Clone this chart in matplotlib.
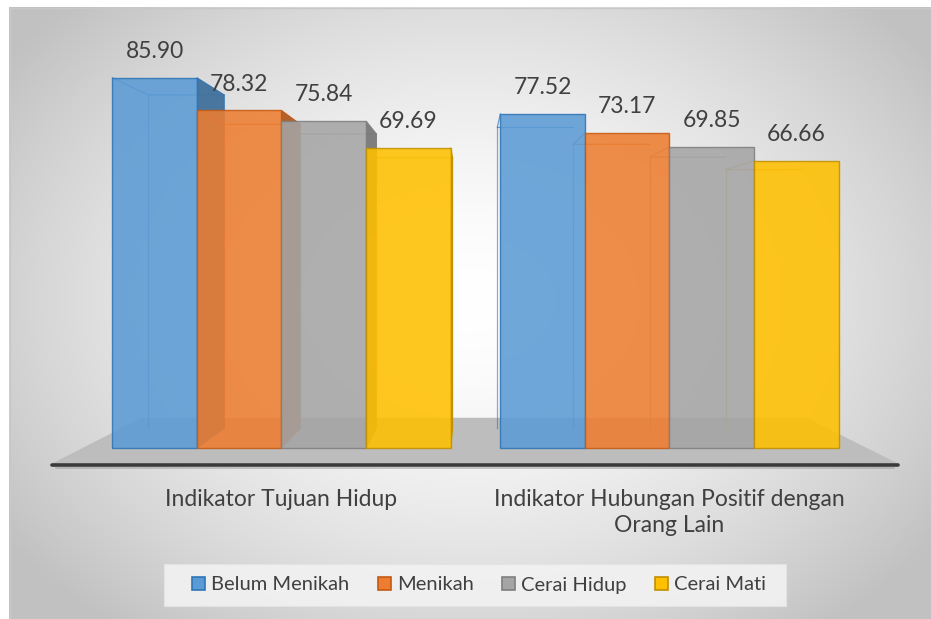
import numpy as np
import matplotlib
matplotlib.use("Agg")
import matplotlib.pyplot as plt
from matplotlib.patches import Polygon, Patch, Rectangle

plt.rcParams['font.family'] = ['Lato', 'DejaVu Sans']

# data
categories = ["Indikator Tujuan Hidup", "Indikator Hubungan Positif dengan\nOrang Lain"]
series = ["Belum Menikah", "Menikah", "Cerai Hidup", "Cerai Mati"]
values = {
    "Belum Menikah": [85.90, 77.52],
    "Menikah": [78.32, 73.17],
    "Cerai Hidup": [75.84, 69.85],
    "Cerai Mati": [69.69, 66.66],
}
face = {"Belum Menikah": "#5b9bd5", "Menikah": "#ed7d31",
        "Cerai Hidup": "#a5a5a5", "Cerai Mati": "#ffc000"}
edge = {"Belum Menikah": "#2e75b6", "Menikah": "#c55a11",
        "Cerai Hidup": "#7f7f7f", "Cerai Mati": "#bf9000"}
side = {"Belum Menikah": "#41719c", "Menikah": "#ae5a21",
        "Cerai Hidup": "#787878", "Cerai Mati": "#bf9000"}
text_col = "#404040"

W, H = 931, 619
fig = plt.figure(figsize=(W / 100, H / 100), dpi=100)

# background: white margin + radial grey gradient for chart area
bg = fig.add_axes([0, 0, 1, 1])
yy, xx = np.mgrid[0:H, 0:W]
r = np.sqrt(((xx - 470) / 560.0) ** 2 + ((yy - 300) / 420.0) ** 2)
g = np.clip(1.0 - 0.24 * r ** 1.6, 0.76, 1.0)
img = np.dstack([g, g, g])
img[:7, :, :] = 1.0
img[:, :9, :] = 1.0
bg.imshow(img, extent=[0, W, H, 0], aspect='auto', interpolation='bilinear')
bg.plot([9, W], [7.5, 7.5], color="#c8c8c8", lw=1)
bg.plot([9.5, 9.5], [7, H], color="#c8c8c8", lw=1)
# legend box
bg.add_patch(Rectangle((164, 564), 622, 42, facecolor="#f2f2f2", edgecolor="#e4e4e4",
                       lw=0.8, alpha=0.9))
bg.set_xlim(0, W)
bg.set_ylim(H, 0)
bg.axis('off')

# main axes
ax = fig.add_axes([0, 149 / H, 1, 470 / H])
ax.set_xlim(-0.7255, 1.674)
ax.set_ylim(-5.104, 103.94)
ax.patch.set_alpha(0)
for s in ax.spines.values():
    s.set_visible(False)
ax.set_yticks([])

x = np.arange(len(categories))
w = 0.218
xv, yv, k = 0.486, 46.0, 0.9   # perspective helper


def back(px, py, kk=k):
    return xv + kk * (px - xv), yv + kk * (py - yv)


# floor
fy = -3.6
fx0, fx1 = -0.591, 1.589
kf = 0.786
bl = back(fx0, fy, kf)
br = back(fx1, fy, kf)
ax.add_patch(Polygon([(fx0, fy), (fx1, fy), br, bl], closed=True,
                     facecolor="#bdbdbd", edgecolor="none", zorder=1))
ax.plot([fx0, fx1], [fy - 0.35, fy - 0.35], color="#3a3a3a", lw=2.6,
        solid_capstyle='round', zorder=2)
ax.plot([fx0 + 0.01, fx1 - 0.01], [fy - 1.0, fy - 1.0], color="#9a9a9a", lw=1.2,
        alpha=0.6, zorder=2)

# side faces and back edges (behind the glassy fronts)
for i, name in enumerate(series):
    for j, v in enumerate(values[name]):
        x0 = x[j] + (i - 1.5) * w - w / 2
        x1 = x0 + w
        b0x, b0t = back(x0, v)
        b1x, b1t = back(x1, v)
        _, bb = back(x0, 0)
        ax.plot([x0, b0x, b1x], [v, b0t, b1t], color=edge[name], lw=0.9, alpha=0.7, zorder=3)
        ax.plot([b0x, b0x], [b0t, bb], color=edge[name], lw=0.9, alpha=0.6, zorder=3)
        if x1 < xv:
            bx, bt = back(x1, v)
            _, b0 = back(x1, 0)
            ax.add_patch(Polygon([(x1, 0), (x1, v), (bx, bt), (bx, b0)], closed=True,
                                 facecolor=side[name], edgecolor=edge[name], lw=0.8,
                                 alpha=0.95, zorder=3))

# front faces
for i, name in enumerate(series):
    pos = x + (i - 1.5) * w
    ax.bar(pos, values[name], width=w, color=face[name], edgecolor=edge[name],
           linewidth=1.0, alpha=0.88, zorder=4)
    for j, v in enumerate(values[name]):
        ax.annotate(f"{v:.2f}", (pos[j], v), xytext=(0, 19), textcoords='offset points',
                    ha='center', va='center', fontsize=16.5, color=text_col, zorder=6)

ax.set_xticks(x)
ax.set_xticklabels(categories, fontsize=16.5, color=text_col, linespacing=1.25)
ax.tick_params(axis='x', length=0, pad=14)

# legend
handles = [Patch(facecolor=face[n], edgecolor=edge[n], linewidth=1.2, label=n) for n in series]
leg = fig.legend(handles=handles, loc='center', bbox_to_anchor=(479 / W, 1 - 585 / H),
                 ncol=4, frameon=False, fontsize=14.5,
                 handlelength=0.65, handleheight=0.65, handletextpad=0.3,
                 columnspacing=1.4, borderpad=0.3)
for t in leg.get_texts():
    t.set_color(text_col)

fig.savefig("out.png", dpi=100)
